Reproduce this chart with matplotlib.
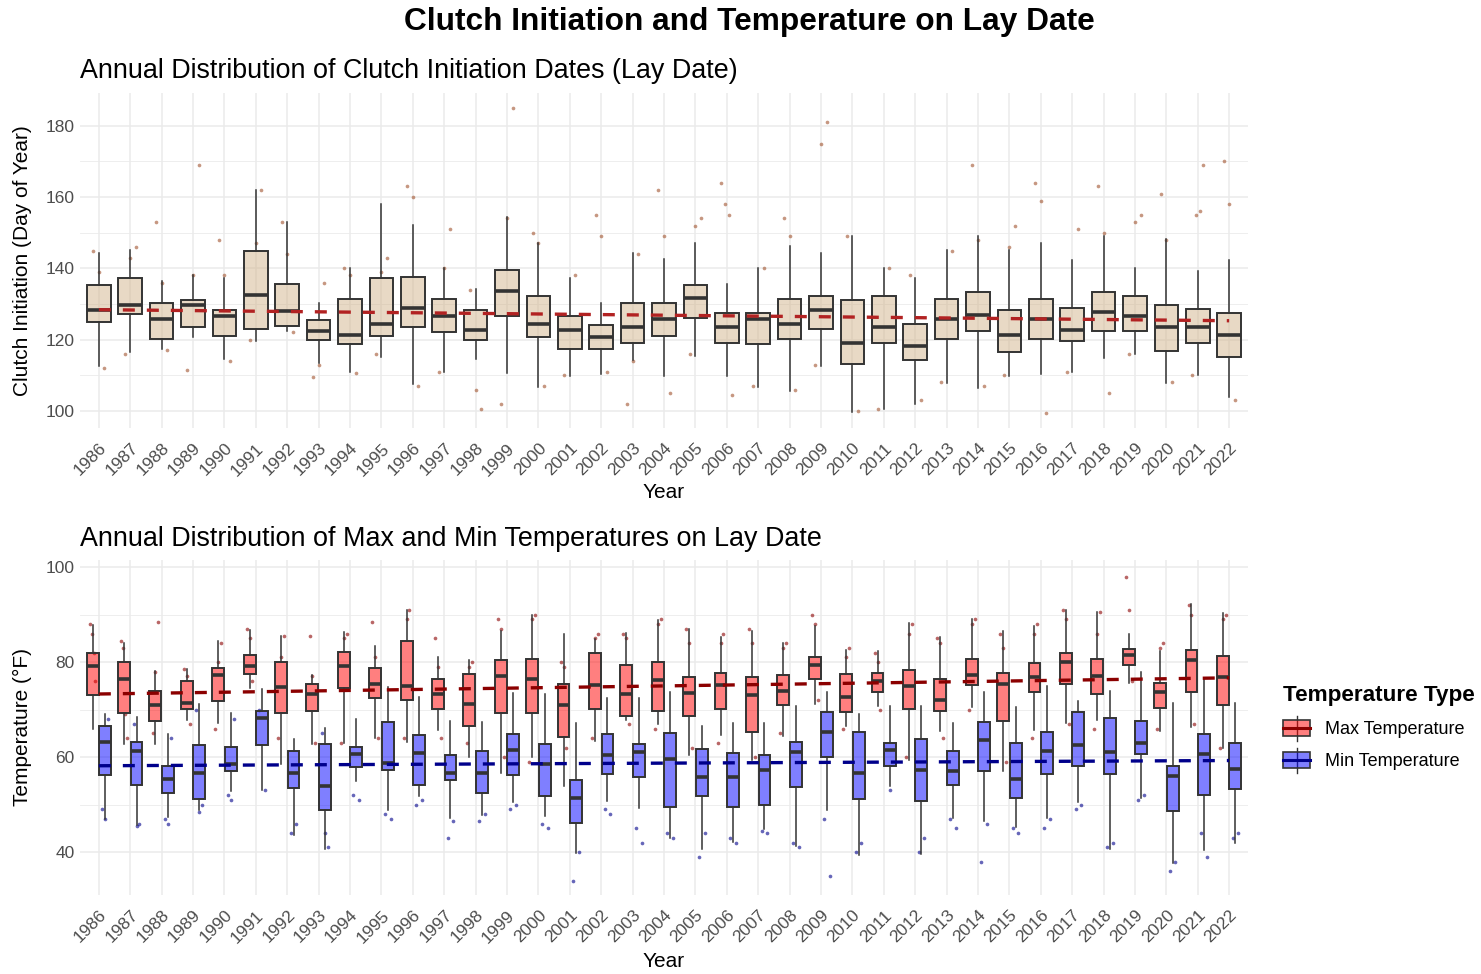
import numpy as np
import matplotlib
matplotlib.use("Agg")
import matplotlib.pyplot as plt
from matplotlib.patches import Patch, Rectangle
from matplotlib.lines import Line2D
from matplotlib.legend_handler import HandlerBase

plt.rcParams['font.family'] = ['Liberation Sans', 'DejaVu Sans']

years = list(range(1986, 2023))

# clutch initiation (day of year): q1, median, q3, whisker low, whisker high
lay_q1 = [125.0, 127.3, 120.3, 123.4, 121.1, 123.1, 123.9, 120.0, 118.7, 121.1, 123.4, 122.2, 119.9,
          126.6, 120.6, 117.3, 117.3, 119.1, 121.1, 126.2, 119.1, 118.7, 120.3, 123.1, 113.1, 119.1,
          114.4, 120.3, 122.4, 116.4, 120.3, 119.6, 122.4, 122.4, 116.9, 119.1, 115.2]
lay_med = [128.4, 129.6, 125.7, 129.6, 126.5, 132.4, 128.1, 122.3, 121.3, 124.5, 128.8, 126.5, 122.6,
           133.7, 124.5, 122.6, 120.6, 123.4, 125.7, 131.6, 123.4, 125.7, 124.5, 128.4, 119.1, 123.4,
           118.3, 125.7, 126.8, 121.3, 125.7, 122.6, 127.8, 126.5, 123.4, 123.4, 121.3]
lay_q3 = [135.2, 137.3, 130.3, 131.0, 128.3, 145.0, 135.7, 125.5, 131.3, 137.3, 137.6, 131.3, 128.3,
          139.6, 132.2, 126.7, 124.2, 130.3, 130.3, 135.3, 127.5, 127.5, 131.3, 132.2, 131.0, 132.2,
          124.3, 131.3, 133.4, 128.3, 131.3, 129.0, 133.4, 132.2, 129.8, 128.5, 127.5]
lay_lo = [112.7, 116.6, 117.5, 120.6, 114.7, 119.7, 122.5, 113.5, 110.8, 115.0, 107.6, 110.8, 114.7,
          110.5, 106.6, 109.8, 110.3, 114.4, 109.8, 115.5, 109.8, 106.6, 105.7, 112.7, 99.8, 100.5,
          101.9, 107.7, 106.5, 109.8, 110.3, 110.8, 114.9, 116.0, 107.7, 110.0, 103.8]
lay_hi = [144.4, 145.2, 136.4, 138.0, 137.3, 162.1, 153.0, 130.3, 140.1, 158.1, 152.3, 140.2, 134.1,
          154.4, 147.2, 137.3, 130.4, 144.4, 142.5, 147.2, 135.5, 140.2, 146.2, 144.4, 149.2, 140.1,
          137.3, 145.2, 149.2, 145.2, 147.2, 142.4, 149.2, 140.1, 148.3, 139.3, 142.4]
# individual nests visible away from the boxes
lay_points = [[145, 139, 112], [146, 143, 116], [153, 136, 117], [169, 138, 111.5], [148, 138, 114],
              [162, 147, 120], [153, 144, 122], [136, 113, 109.5], [140, 138, 110.5], [143, 139, 116],
              [163, 160, 107], [151, 140, 111], [134, 106, 100.5], [185, 154, 102], [150, 147, 107],
              [138, 110], [155, 149, 111], [144, 114, 102], [162, 149, 105], [154, 152, 116],
              [164, 158, 155, 104.5], [140, 107], [154, 149, 106], [181, 175, 113], [149, 100],
              [140, 100.5], [138, 103], [145, 108], [169, 148, 107], [152, 146, 110], [164, 159, 99.5],
              [151, 111], [163, 150, 105], [155, 153, 116], [161, 148, 108], [169, 156, 155, 110],
              [170, 158, 103]]
lay_trend = [128.4, 125.3]

# max temperature (F) on lay date
tmax_q1 = [73.1, 69.3, 67.7, 70.1, 71.9, 77.5, 69.3, 69.8, 74.5, 72.5, 72.1, 70.2, 66.5, 69.3, 69.3,
           64.2, 70.2, 68.6, 69.8, 68.6, 70.2, 65.4, 71.0, 76.4, 69.5, 73.7, 70.2, 69.8, 75.2, 67.7,
           73.7, 75.4, 73.3, 79.5, 70.4, 73.7, 71.0]
tmax_med = [79.2, 76.5, 70.9, 71.4, 77.4, 79.2, 74.7, 73.2, 79.1, 75.3, 74.9, 73.2, 71.2, 77.1, 76.5,
            70.9, 75.1, 73.2, 76.3, 73.5, 75.1, 73.0, 73.9, 79.4, 72.6, 76.0, 74.9, 72.1, 77.4, 75.3,
            76.8, 80.0, 77.1, 81.5, 73.8, 80.4, 76.8]
tmax_q3 = [81.9, 80.1, 73.9, 76.0, 78.7, 81.6, 80.1, 75.4, 82.2, 78.7, 84.4, 76.4, 77.5, 80.5, 80.7,
           75.4, 82.0, 79.5, 80.1, 76.8, 77.8, 76.8, 77.2, 81.1, 77.5, 77.8, 78.4, 76.4, 80.7, 77.8,
           79.9, 81.9, 80.7, 82.8, 75.6, 82.6, 81.3]
tmax_lo = [66.0, 62.7, 62.7, 67.9, 67.1, 74.5, 58.6, 62.8, 62.9, 64.0, 63.2, 65.8, 60.0, 56.6, 60.0,
           54.0, 63.5, 67.9, 67.0, 60.4, 64.6, 59.5, 64.4, 71.2, 66.5, 70.7, 59.5, 65.5, 70.5, 57.0,
           65.8, 67.1, 67.9, 75.6, 65.5, 66.3, 61.9]
tmax_hi = [87.9, 84.0, 78.1, 78.5, 84.4, 86.8, 85.5, 77.2, 86.3, 83.5, 90.9, 81.1, 80.5, 86.5, 90.0,
           86.0, 84.9, 86.1, 88.8, 86.9, 85.3, 86.5, 84.0, 87.6, 82.5, 82.3, 88.2, 85.4, 89.1, 86.5,
           87.6, 90.9, 90.5, 86.0, 82.3, 92.3, 90.3]
tmax_points = [[88, 86, 82, 76], [84.5, 83, 69, 64], [88.5, 78, 65], [78.5, 77, 67], [84, 80, 66],
               [87, 85, 76], [85.5, 81, 64], [85.5, 77, 63], [86, 85, 63], [88.5, 81, 64],
               [91, 89, 64], [85, 79, 64], [80, 79, 63], [89, 87, 60], [90, 89, 59], [80, 79, 62],
               [86, 85, 64], [86, 85, 67], [89, 88, 66], [87, 84, 62], [86, 84, 63], [87, 84, 60],
               [84, 83, 65], [90, 88, 72], [83, 81, 66], [82, 80, 70], [88, 86, 60], [85, 84, 64],
               [89, 88, 70], [86, 83, 59], [88, 86, 64], [91, 89, 67], [90.5, 86, 66], [98, 91, 76],
               [84, 83, 66], [92, 90, 67], [90, 89, 62]]
tmax_trend = [73.3, 76.7]

# min temperature (F) on lay date
tmin_q1 = [56.2, 54.2, 52.4, 51.2, 57.1, 62.5, 53.5, 48.9, 58.0, 57.4, 54.2, 55.1, 52.4, 56.3, 51.8,
           46.2, 56.5, 55.9, 49.5, 51.8, 49.5, 50.0, 53.8, 60.0, 51.1, 58.2, 50.7, 54.2, 57.0, 51.4,
           56.5, 58.2, 56.5, 60.7, 48.6, 52.1, 53.3]
tmin_med = [63.2, 61.2, 55.4, 56.7, 58.5, 68.2, 56.7, 54.0, 60.6, 58.8, 60.8, 56.7, 56.7, 61.6, 58.5,
            51.4, 60.4, 61.1, 59.6, 55.8, 55.8, 57.3, 61.1, 65.3, 56.7, 61.6, 57.3, 57.0, 63.7, 55.4,
            61.4, 62.6, 61.1, 62.9, 56.1, 60.6, 57.5]
tmin_q3 = [66.5, 63.3, 58.2, 62.5, 62.1, 69.8, 61.3, 62.8, 62.1, 67.5, 64.6, 60.4, 61.2, 64.8, 62.7,
           55.3, 64.8, 62.7, 65.1, 61.8, 60.9, 60.4, 63.3, 69.5, 65.4, 63.0, 63.9, 61.2, 67.4, 62.9,
           65.4, 69.5, 68.3, 67.7, 58.2, 64.8, 63.0]
tmin_lo = [47.0, 45.8, 47.5, 48.8, 52.8, 53.1, 43.7, 40.7, 54.9, 48.8, 51.9, 47.2, 47.9, 50.5, 47.6,
           39.9, 50.7, 49.3, 42.9, 40.7, 42.1, 44.9, 41.4, 48.9, 39.5, 53.9, 39.6, 47.2, 46.5, 45.3,
           47.2, 50.5, 40.7, 51.4, 37.8, 40.5, 42.0]
tmin_hi = [69.0, 68.4, 64.9, 71.1, 69.3, 74.4, 63.9, 66.1, 68.1, 74.7, 72.6, 67.7, 67.4, 73.5, 73.3,
           67.2, 72.5, 72.5, 73.7, 66.5, 67.2, 67.2, 70.7, 73.7, 69.1, 70.7, 70.7, 67.2, 73.7, 70.5,
           74.9, 71.9, 74.0, 77.9, 71.5, 76.5, 71.5]
tmin_points = [[49, 47, 68], [46, 45.5, 67], [47, 46, 64], [50, 48.5, 70], [52, 51, 68], [53, 70],
               [44, 46], [41, 44, 65], [52, 51], [47, 48], [50, 51], [46.5, 43], [46.5, 48], [50, 49],
               [46, 45], [40, 34], [49, 48], [42, 45], [44, 43], [44, 39], [43, 42], [44, 44.5],
               [42, 41], [35, 47], [40, 42], [53], [40, 43], [45, 47], [38, 46], [44, 45], [45, 47],
               [50, 49], [41, 42], [52, 51], [36, 38], [39, 44], [43, 44]]
tmin_trend = [58.2, 59.3]

pos = np.arange(len(years))
EDGE = '#333333'
GRID = '#EBEBEB'
TXT = '#4D4D4D'


def stats(q1, med, q3, lo, hi):
    return [dict(q1=a, med=b, q3=c, whislo=d, whishi=e, fliers=[])
            for a, b, c, d, e in zip(q1, med, q3, lo, hi)]


def jitter(ax, centers, pts, color, half):
    xs, ys = [], []
    for c, vals in zip(centers, pts):
        n = len(vals)
        offs = np.linspace(-half, half, n) if n > 1 else np.array([0.0])
        offs = offs[::-1] if int(c) % 2 else offs
        xs.extend(c + offs)
        ys.extend(vals)
    ax.scatter(xs, ys, s=7, color=color, alpha=0.6, lw=0, zorder=2)


def boxes(ax, st, where, width, fill):
    ax.bxp(st, positions=where, widths=width, patch_artist=True, showcaps=False,
           showfliers=False, manage_ticks=False, zorder=3,
           boxprops=dict(facecolor=fill, edgecolor=EDGE, linewidth=1.4),
           medianprops=dict(color=EDGE, linewidth=2.6),
           whiskerprops=dict(color=EDGE, linewidth=1.1))


def style(ax, ylim, major, minor):
    ax.set_xlim(-0.6, len(years) - 0.4)
    ax.set_ylim(*ylim)
    for s in ax.spines.values():
        s.set_visible(False)
    ax.set_yticks(major)
    ax.set_yticks(minor, minor=True)
    ax.set_xticks(pos)
    ax.set_xticklabels([str(y) for y in years], rotation=45, ha='right', va='top',
                       rotation_mode='anchor')
    ax.tick_params(which='both', length=0, labelsize=12.5, labelcolor=TXT)
    ax.tick_params(axis='x', pad=9)
    ax.tick_params(axis='y', pad=4)
    ax.grid(which='major', color=GRID, lw=1.1)
    ax.grid(which='minor', axis='y', color=GRID, lw=0.6)
    ax.set_axisbelow(True)


fig = plt.figure(figsize=(14.81, 9.74), dpi=100)
W, H = 1481, 974
ax1 = fig.add_axes([80 / W, 1 - 428 / H, 1168 / W, 335 / H])
ax2 = fig.add_axes([80 / W, 1 - 895 / H, 1168 / W, 335 / H])

# top panel: lay dates
jitter(ax1, pos, lay_points, '#A0522D', 0.18)
boxes(ax1, stats(lay_q1, lay_med, lay_q3, lay_lo, lay_hi), pos, 0.75, (0.824, 0.706, 0.549, 0.5))
ax1.plot([pos[0], pos[-1]], lay_trend, color='#B22222', lw=2.4, dashes=(3.6, 3.6), zorder=4)
style(ax1, (95.2, 189.2), [100, 120, 140, 160, 180], [110, 130, 150, 170])
ax1.set_title('Annual Distribution of Clutch Initiation Dates (Lay Date)', loc='left',
              fontsize=19.4, pad=11)
ax1.set_xlabel('Year', fontsize=15)
ax1.xaxis.set_label_coords(0.5, -0.164)
ax1.set_ylabel('Clutch Initiation (Day of Year)', fontsize=15)
ax1.yaxis.set_label_coords(-0.041, 0.5)

# bottom panel: temperatures
jitter(ax2, pos - 0.2, tmax_points, '#8B0000', 0.09)
jitter(ax2, pos + 0.2, tmin_points, '#00008B', 0.09)
boxes(ax2, stats(tmax_q1, tmax_med, tmax_q3, tmax_lo, tmax_hi), pos - 0.2, 0.38, (1, 0, 0, 0.5))
boxes(ax2, stats(tmin_q1, tmin_med, tmin_q3, tmin_lo, tmin_hi), pos + 0.2, 0.38, (0, 0, 1, 0.5))
ax2.plot([pos[0], pos[-1]], tmax_trend, color='#8B0000', lw=2.4, dashes=(3.6, 3.6), zorder=4)
ax2.plot([pos[0], pos[-1]], tmin_trend, color='#00008B', lw=2.4, dashes=(3.6, 3.6), zorder=4)
style(ax2, (31.0, 101.5), [40, 60, 80, 100], [50, 70, 90])
ax2.set_title('Annual Distribution of Max and Min Temperatures on Lay Date', loc='left',
              fontsize=19.4, pad=10)
ax2.set_xlabel('Year', fontsize=15)
ax2.xaxis.set_label_coords(0.5, -0.170)
ax2.set_ylabel('Temperature (°F)', fontsize=15)
ax2.yaxis.set_label_coords(-0.041, 0.5)

fig.text(0.5057, 1 - 22 / H, 'Clutch Initiation and Temperature on Lay Date', ha='center',
         va='center', fontsize=22.8, fontweight='bold')


class BoxKey(HandlerBase):
    def __init__(self, fill, line):
        super().__init__()
        self.fill = fill
        self.line = line

    def create_artists(self, legend, orig_handle, xdescent, ydescent, width, height,
                       fontsize, trans):
        x0, y0 = -xdescent, -ydescent
        wh = Line2D([x0 + width / 2] * 2, [y0 - height * 0.3, y0 + height * 1.3],
                    color=EDGE, lw=1.0, transform=trans)
        rect = Rectangle((x0, y0), width, height, facecolor=self.fill, edgecolor=EDGE,
                         lw=1.2, transform=trans)
        med = Line2D([x0, x0 + width], [y0 + height / 2] * 2, color=self.line, lw=2.2,
                     transform=trans)
        return [wh, rect, med]


h_max, h_min = Patch(), Patch()
fig.legend([h_max, h_min], ['Max Temperature', 'Min Temperature'],
           handler_map={h_max: BoxKey((1, 0, 0, 0.5), '#8B0000'),
                        h_min: BoxKey((0, 0, 1, 0.5), '#00008B')},
           title='Temperature Type', loc='upper left', bbox_to_anchor=(1267 / W, 1 - 669 / H),
           frameon=False, fontsize=13, title_fontproperties={'weight': 'bold', 'size': 16.2},
           alignment='left', handlelength=1.5, handleheight=0.95, handletextpad=0.8,
           labelspacing=0.78)

fig.savefig('out.png', dpi=100)
